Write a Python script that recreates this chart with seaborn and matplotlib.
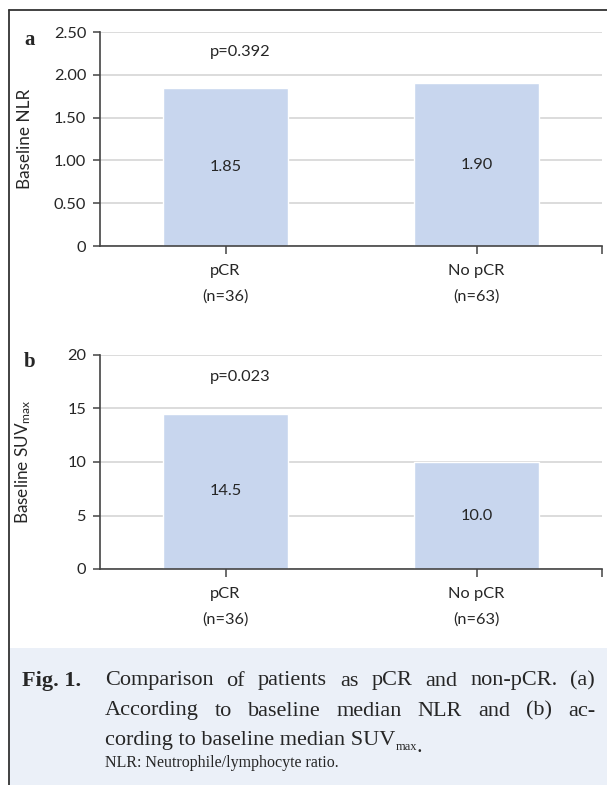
import matplotlib
matplotlib.use("Agg")
import matplotlib.pyplot as plt
import seaborn as sns
from matplotlib.lines import Line2D
from matplotlib.patches import Rectangle

# --- data ---
groups = ["pCR", "No pCR"]
group_n = ["(n=36)", "(n=63)"]
nlr_median = [1.85, 1.90]
suv_median = [14.5, 10.0]
p_values = ["p=0.392", "p=0.023"]

nlr_ticks = [0, 0.5, 1.0, 1.5, 2.0, 2.5]
nlr_ticklabels = ["0", "0.50", "1.00", "1.50", "2.00", "2.50"]
suv_ticks = [0, 5, 10, 15, 20]

BAR = "#c8d6ee"
SPINE = "#444444"
GRID = "#d9d9d9"

sns.set_style("white")
plt.rcParams["font.family"] = ["Lato", "DejaVu Sans"]
plt.rcParams["mathtext.fontset"] = "custom"
plt.rcParams["mathtext.rm"] = "Lato"
plt.rcParams["mathtext.it"] = "Lato:italic"

W, H = 607, 785
fig = plt.figure(figsize=(W / 100, H / 100), dpi=100)


def fx(px):
    return px / W


def fy(py):
    return 1 - py / H


def panel(top_px, bottom_px, values, fmt, ylabel, ticks, ticklabels, ptext, py):
    ax = fig.add_axes([fx(100), fy(bottom_px), fx(602) - fx(100), (bottom_px - top_px) / H])
    sns.barplot(x=groups, y=values, color=BAR, saturation=1, width=0.5, ax=ax)
    ax.set_xlim(-0.5, 1.5)
    ax.set_ylim(ticks[0], ticks[-1])
    ax.set_yticks(ticks)
    ax.set_yticklabels(ticklabels)
    ax.set_xticks([0, 1])
    ax.set_xticks([1.5], minor=True)
    ax.set_xticklabels([f"{g}\n{n}" for g, n in zip(groups, group_n)], linespacing=2.0)
    ax.yaxis.grid(True, color=GRID, lw=1.3)
    ax.set_axisbelow(True)
    for s in ["top", "right"]:
        ax.spines[s].set_visible(False)
    for s in ["left", "bottom"]:
        ax.spines[s].set_color(SPINE)
        ax.spines[s].set_linewidth(1.2)
    ax.tick_params(axis="y", which="both", direction="out", length=5, width=1.1,
                   color=SPINE, pad=5, labelsize=11.8, left=True)
    ax.tick_params(axis="x", which="both", direction="out", length=6, width=1.1,
                   color=SPINE, pad=7, labelsize=11.8, bottom=True)
    ax.set_xlabel("")
    ax.set_ylabel(ylabel, fontsize=12.3)
    ax.yaxis.set_label_coords(-(100 - 33) / 502, 0.5)
    for i, v in enumerate(values):
        ax.text(i, v / 2, fmt.format(v), ha="center", va="center", fontsize=11.8)
    ax.text(0.058, py, ptext, ha="center", va="center", fontsize=11.8)
    return ax


ax_a = panel(32, 246, nlr_median, "{:.2f}", "Baseline NLR", nlr_ticks,
             nlr_ticklabels, p_values[0], 2.27)
ax_b = panel(355, 569, suv_median, "{:.1f}", r"Baseline SUV$_{\rm max}$", suv_ticks,
             [str(t) for t in suv_ticks], p_values[1], 17.9)

serif = ["Liberation Serif", "DejaVu Serif"]
fig.text(fx(30), fy(40), "a", fontsize=15, fontweight="bold", family=serif,
         ha="center", va="center")
fig.text(fx(30), fy(362), "b", fontsize=15, fontweight="bold", family=serif,
         ha="center", va="center")

# frame lines and caption box
fig.add_artist(Rectangle((fx(9), 0), 1 - fx(9), fy(648), transform=fig.transFigure,
                         facecolor="#ebf0f8", edgecolor="none", zorder=0))
fig.add_artist(Line2D([fx(9), fx(9)], [0, fy(10)], color="#333333", lw=1.3))
fig.add_artist(Line2D([fx(9), 1], [fy(10), fy(10)], color="#333333", lw=1.3))

CAP = 16
fig.text(fx(22), fy(681), "Fig. 1.", fontsize=CAP, fontweight="bold", family=serif,
         va="center")

renderer = fig.canvas.get_renderer()


def justified(line, y, x0=105, x1=595):
    words = line.split()
    texts = [fig.text(fx(x0), fy(y), w, fontsize=CAP, family=serif, va="center")
             for w in words]
    widths = [t.get_window_extent(renderer).width for t in texts]
    gap = (x1 - x0 - sum(widths)) / (len(words) - 1)
    x = x0
    for t, w in zip(texts, widths):
        t.set_x(fx(x))
        x += w + gap


justified("Comparison of patients as pCR and non-pCR. (a)", 681)
justified("According to baseline median NLR and (b) ac-", 711)
t3 = fig.text(fx(105), fy(740), "cording to baseline median SUV",
              fontsize=CAP, family=serif, va="center")
sub = ax_b.annotate("max", xy=(1, 0.12), xycoords=t3, fontsize=9, family=serif,
                    va="center", ha="left", annotation_clip=False)
ax_b.annotate(".", xy=(1, 0.5), xycoords=sub, fontsize=CAP, family=serif,
              va="center", ha="left", annotation_clip=False)
fig.text(fx(105), fy(763), "NLR: Neutrophile/lymphocyte ratio.", fontsize=11.5,
         family=serif, va="center")

fig.savefig("out.png", dpi=100)
